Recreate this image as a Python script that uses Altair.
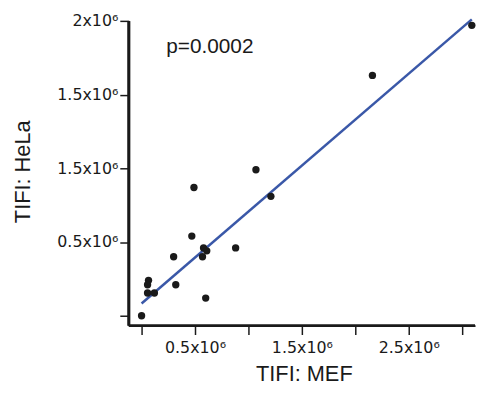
import altair as alt
import pandas as pd

# MEF (x) and HeLa (y) TIFI values
mef = [0, 65000, 56000, 56000, 120000, 300000, 320000, 470000, 490000,
       580000, 610000, 570000, 600000, 880000, 1070000, 1210000, 2160000, 3090000]
hela = [0, 240000, 210000, 154000, 154000, 400000, 210000, 540000, 870000,
        460000, 440000, 400000, 120000, 460000, 990000, 810000, 1630000, 1970000]

fit_x = [0, 3090000]
fit_y = [83000, 2010000]

x_ticks = [0, 500000, 1000000, 1500000, 2000000, 2500000, 3000000]
x_labels = ["", "0.5x10⁶", "", "1.5x10⁶", "", "2.5x10⁶", ""]
y_ticks = [0, 500000, 1000000, 1500000, 2000000]
y_labels = ["", "0.5x10⁶", "1.5x10⁶", "1.5x10⁶", "2x10⁶"]

x_range = [-120400, 3120000]
y_range = [-67100, 2000000]

p_text = ["p=0.0002"]
p_x = [231000]
p_y = [1821000]


def label_expr(vals, labs):
    expr = "''"
    for v, l in reversed(list(zip(vals, labs))):
        expr = f"datum.value == {v} ? '{l}' : ({expr})"
    return expr


FONT = "Liberation Sans"
LFONT = "DejaVu Sans"
INK = "#1a1a1a"

pts = pd.DataFrame({"x": mef, "y": hela})
fit = pd.DataFrame({"x": fit_x, "y": fit_y})
ann = pd.DataFrame({"x": p_x, "y": p_y, "t": p_text})
yline = pd.DataFrame({"x": [x_range[0]], "y": [y_range[0]], "y2": [y_range[1]]})
xline = pd.DataFrame({"x": [x_range[0]], "x2": [x_range[1]], "y": [y_range[0]]})

xscale = alt.Scale(domain=x_range, nice=False, zero=False)
yscale = alt.Scale(domain=y_range, nice=False, zero=False)

xaxis = alt.Axis(values=x_ticks, labelExpr=label_expr(x_ticks, x_labels),
                 labelPadding=5, title="TIFI: MEF", titleX=177, titleY=48,
                 titleBaseline="middle", titleAlign="center")
yaxis = alt.Axis(values=y_ticks, labelExpr=label_expr(y_ticks, y_labels),
                 labelPadding=2, title="TIFI: HeLa", titleX=-107, titleY=152,
                 titleAngle=-90, titleBaseline="middle", titleAlign="center")

X = alt.X("x:Q", scale=xscale, axis=xaxis)
Y = alt.Y("y:Q", scale=yscale, axis=yaxis)

yaxis_line = alt.Chart(yline).mark_rule(color=INK, strokeWidth=3).encode(
    x=X, y=Y, y2="y2:Q")
xaxis_line = alt.Chart(xline).mark_rule(color=INK, strokeWidth=3).encode(
    x=X, x2="x2:Q", y=Y)

points = alt.Chart(pts).mark_circle(size=55, color="#1a1a1a", opacity=1).encode(
    x=X, y=Y)

line = alt.Chart(fit).mark_line(color="#3a58a8", strokeWidth=2.5).encode(
    x=X, y=Y)

text = alt.Chart(ann).mark_text(align="left", baseline="middle", font=FONT,
                                fontSize=21, color=INK).encode(
    x=X, y=Y, text="t:N")

chart = alt.layer(yaxis_line, xaxis_line, line, points, text).properties(
    width=350, height=308,
    padding={"left": 4, "top": 3, "right": 0, "bottom": 0},
).configure_view(
    stroke=None
).configure_axis(
    grid=False, domain=True, domainColor=INK, domainWidth=2,
    tickColor=INK, tickWidth=1.5, tickSize=9, labelFont=LFONT,
    labelFontSize=16, labelColor=INK, titleFont=FONT, titleFontSize=22,
    titleColor=INK, titleFontWeight="normal", labelOverlap=False,
    labelFlush=False, labelBound=False,
)

chart.save("out.html", embed_options={"renderer": "svg", "actions": False})
